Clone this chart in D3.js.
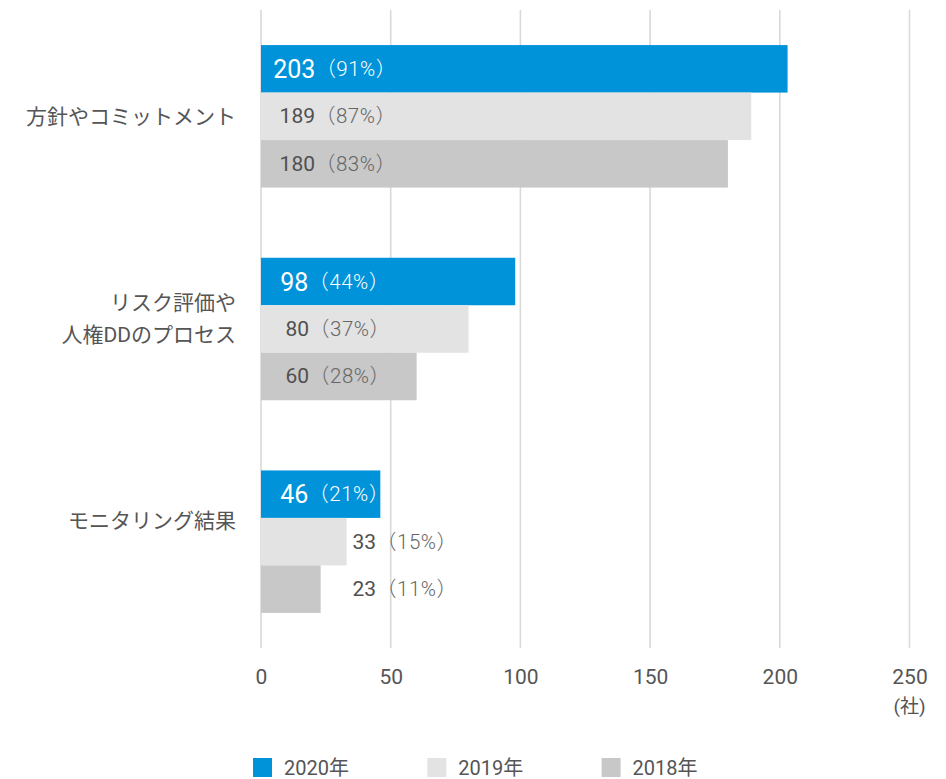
<!DOCTYPE html>
<html lang="ja">
<head>
<meta charset="utf-8">
<script src="https://cdn.jsdelivr.net/npm/d3@7"></script>
<style>
  html, body { margin: 0; padding: 0; background: #fff; }
  svg { display: block; font-family: Roboto, "Noto Sans CJK JP", sans-serif; }
</style>
</head>
<body>
<svg id="chart" width="946" height="779"></svg>
<script>
// Categories (each may wrap onto several lines)
const categories = ["方針やコミットメント", "リスク評価や\n人権DDのプロセス", "モニタリング結果"];
// Series, newest first
const seriesNames = ["2020年", "2019年", "2018年"];
const seriesColors = ["#0093d9", "#e3e3e3", "#c8c8c8"];
// Number of companies per category, one array per series
const values2020 = [203, 98, 46];
const values2019 = [189, 80, 33];
const values2018 = [180, 60, 23];
// Share of companies (%)
const share2020 = [91, 44, 21];
const share2019 = [87, 37, 15];
const share2018 = [83, 28, 11];
// Axis ticks
const tickValues = [0, 50, 100, 150, 200, 250];
const unitLabel = "(社)";

const seriesValues = [values2020, values2019, values2018];
const seriesShares = [share2020, share2019, share2018];

const svg = d3.select("#chart");

const x = d3.scaleLinear().domain([0, 250]).range([261, 909.5]);

const y0 = d3.scaleBand()
  .domain(categories)
  .range([10, 648])
  .paddingInner(0.33)
  .paddingOuter(0.165);

const y1 = d3.scaleBand()
  .domain(seriesNames)
  .range([0, y0.bandwidth()]);

// Category labels sit on their own evenly spaced rows
const yLabel = d3.scalePoint().domain(categories).range([117, 521]);

// Grid lines
const grid = svg.append("g").attr("class", "grid");
grid.selectAll("line")
  .data(tickValues)
  .join("line")
  .attr("x1", d => x(d)).attr("x2", d => x(d))
  .attr("y1", 10).attr("y2", 648)
  .attr("stroke", "#d9d9d9")
  .attr("stroke-width", 1.6);

// Tick labels via a bottom axis without domain/tick lines
const axis = svg.append("g")
  .attr("transform", "translate(0,664)")
  .call(d3.axisBottom(x).tickValues(tickValues).tickSize(0).tickPadding(0).tickFormat(d3.format("d")));
axis.select(".domain").remove();
axis.selectAll("text")
  .attr("font-size", 21)
  .attr("fill", "#555")
  .attr("font-family", "Roboto, 'Noto Sans CJK JP', sans-serif")
  .attr("dy", "0.95em");

svg.append("text")
  .attr("x", x(250))
  .attr("y", 713)
  .attr("text-anchor", "middle")
  .attr("font-size", 19)
  .attr("fill", "#555")
  .text(unitLabel);

// Bars
const rows = [];
categories.forEach((c, ci) => {
  seriesNames.forEach((s, si) => {
    rows.push({ cat: c, series: s, si, value: seriesValues[si][ci], share: seriesShares[si][ci] });
  });
});

const barG = svg.append("g");
barG.selectAll("rect")
  .data(rows)
  .join("rect")
  .attr("x", x(0))
  .attr("y", d => y0(d.cat) + y1(d.series))
  .attr("width", d => x(d.value) - x(0))
  .attr("height", y1.bandwidth())
  .attr("fill", d => seriesColors[d.si]);

// Value labels: number followed by share in brackets
const labels = svg.append("g").selectAll("text")
  .data(rows)
  .join("text")
  .attr("y", d => y0(d.cat) + y1(d.series) + y1.bandwidth() / 2)
  .attr("dominant-baseline", "central")
  .attr("text-anchor", "middle");

labels.append("tspan")
  .attr("font-size", d => d.si === 0 ? 25 : 21)
  .text(d => d.value);
labels.append("tspan")
  .attr("font-size", 20.5)
  .attr("font-weight", 300)
  .attr("letter-spacing", 0.5)
  .text(d => "（" + d.share + "%）");

labels.each(function(d) {
  const t = d3.select(this);
  const w = this.getComputedTextLength();
  const barW = x(d.value) - x(0);
  const inside = w < barW;
  const insideX = x(0) + (d.si === 0 ? 74 : 77);
  t.attr("x", inside ? insideX : x(0) + 144);
  t.selectAll("tspan").attr("fill", (_, i) => {
    if (d.si === 0 && inside) return "#ffffff";
    return i === 0 ? "#505050" : "#666";
  });
});

// Category labels
const catG = svg.append("g");
categories.forEach(c => {
  const lines = c.split("\n");
  const lh = 32;
  const t = catG.append("text")
    .attr("text-anchor", "end")
    .attr("font-size", 21)
    .attr("fill", "#555")
    .attr("font-family", "Roboto, 'Noto Sans CJK JP', sans-serif");
  lines.forEach((ln, i) => {
    t.append("tspan")
      .attr("x", 236)
      .attr("y", yLabel(c) + (i - (lines.length - 1) / 2) * lh)
      .attr("dominant-baseline", "central")
      .text(ln);
  });
});

// Legend
const legend = svg.append("g").attr("transform", "translate(253,758)");
const item = legend.selectAll("g")
  .data(seriesNames)
  .join("g")
  .attr("transform", (d, i) => `translate(${i * 174.3},0)`);
item.append("rect")
  .attr("width", 19).attr("height", 19)
  .attr("fill", (d, i) => seriesColors[i]);
item.append("text")
  .attr("x", 31)
  .attr("y", 9.5)
  .attr("dominant-baseline", "central")
  .attr("font-size", 20)
  .attr("fill", "#555")
  .text(d => d);
</script>
</body>
</html>
